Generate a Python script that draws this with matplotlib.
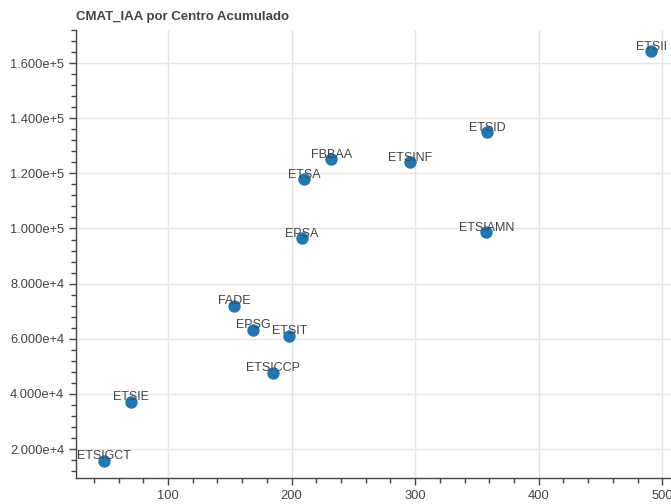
import matplotlib
matplotlib.use("Agg")
import matplotlib.pyplot as plt
from matplotlib.ticker import FuncFormatter, MultipleLocator

plt.rcParams["font.family"] = ["Liberation Sans", "DejaVu Sans"]

centros = ["ETSII", "ETSID", "ETSINF", "FBBAA", "ETSA", "EPSA", "ETSIAMN",
           "FADE", "EPSG", "ETSIT", "ETSICCP", "ETSIE", "ETSIGCT"]
x_vals = [491, 358, 296, 232, 210, 208, 357.5, 153.5, 169, 198, 185, 70, 48]
cmat_iaa = [164300, 134900, 124000, 125100, 117800, 96400, 98600,
            72000, 63300, 61000, 47600, 37100, 15700]


def sci_fmt(v, pos):
    mant, exp = f"{v:.3e}".split("e")
    return f"{mant}e+{int(exp)}"


fig = plt.figure(figsize=(6.71, 5.04), dpi=100)
ax = fig.add_axes([76 / 671, 1 - 478 / 504, 1 - 76 / 671, (478 - 30) / 504])

ax.scatter(x_vals, cmat_iaa, s=80, color="#1f77b4", zorder=3, linewidths=0)
for name, x, y in zip(centros, x_vals, cmat_iaa):
    ax.annotate(name, (x, y), xytext=(0, -1), textcoords="offset points",
                ha="center", va="bottom", fontsize=9, color="#444444", zorder=4)

ax.set_xlim(25.5, 507)
ax.set_ylim(9500, 172000)
ax.xaxis.set_major_locator(MultipleLocator(100))
ax.xaxis.set_minor_locator(MultipleLocator(20))
ax.yaxis.set_major_locator(MultipleLocator(20000))
ax.yaxis.set_minor_locator(MultipleLocator(4000))
ax.yaxis.set_major_formatter(FuncFormatter(sci_fmt))

ax.grid(True, which="major", color="#e5e5e5", linewidth=1)
ax.set_axisbelow(True)
for side in ["top", "right"]:
    ax.spines[side].set_visible(False)
for side in ["left", "bottom"]:
    ax.spines[side].set_color("#444444")
    ax.spines[side].set_linewidth(1)
ax.tick_params(which="major", length=5, width=1, color="#444444",
               labelsize=9.3, labelcolor="#444444")
ax.tick_params(which="minor", length=3.5, width=1, color="#444444")

fig.text(76 / 671, 1 - 17 / 504, "CMAT_IAA por Centro Acumulado", fontsize=9.5,
         fontweight="bold", color="#444444", va="center", ha="left")

fig.savefig("out.png", dpi=100)
